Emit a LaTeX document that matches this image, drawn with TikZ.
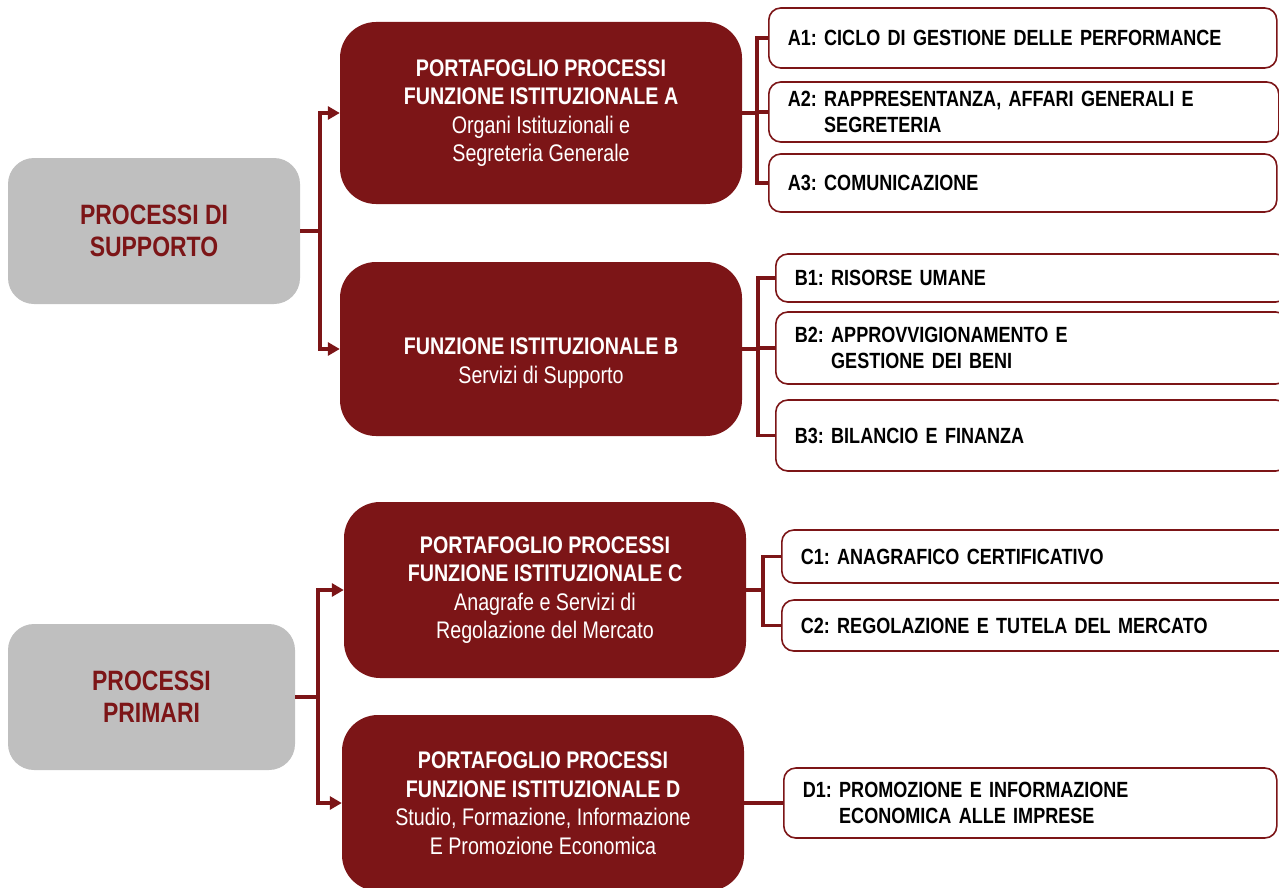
\documentclass[tikz,border=0pt]{standalone}
\usepackage{fontspec}
\setmainfont{Liberation Sans}[FakeStretch=0.82]
\usepackage{tikz}
\usetikzlibrary{positioning,arrows.meta}
\definecolor{bordo}{RGB}{124,21,23}
\definecolor{grigio}{RGB}{191,191,191}

\begin{document}
\begin{tikzpicture}[x=1pt,y=-1pt,
      macro/.style={rectangle,fill=grigio,rounded corners=26pt,minimum width=292pt,minimum height=146pt,
                    align=center,text=bordo,font=\fontsize{28}{32}\selectfont\bfseries},
      funz/.style={rectangle,fill=bordo,rounded corners=36pt,minimum width=402pt,
                   align=center,text=white,font=\fontsize{24}{28.5}\selectfont},
      proc/.style={rectangle,draw=bordo,line width=1.6pt,fill=white,rounded corners=12pt,anchor=west,
                   inner xsep=19pt,text width=#1,align=left,font=\fontsize{22}{26}\selectfont\bfseries},
      proc/.default=470pt,
      ramo/.style={draw=bordo,line width=3.5pt},
      freccia/.style={ramo,-{Triangle[length=12pt,width=13pt]}}]
    \useasboundingbox (0,0) rectangle (1279,888);
    \node[macro] (supp) at (154,231) {PROCESSI DI\\SUPPORTO};
    \node[macro,minimum width=287pt] (prim) at (151.5,697) {PROCESSI\\PRIMARI};
    \node[funz,minimum height=182pt] (fa) at (541,113) {\textbf{PORTAFOGLIO PROCESSI}\\\textbf{FUNZIONE ISTITUZIONALE A}\\Organi Istituzionali e\\Segreteria Generale};
    \node[funz,minimum height=174pt] (fb) at (541,349) {};
    \node[text=white,align=center,font=\fontsize{24}{28.5}\selectfont] at ([yshift=-14pt]fb.center) {\textbf{FUNZIONE ISTITUZIONALE B}\\Servizi di Supporto};
    \node[funz,minimum height=176pt] (fc) at (545,590) {\textbf{PORTAFOGLIO PROCESSI}\\\textbf{FUNZIONE ISTITUZIONALE C}\\Anagrafe e Servizi di\\Regolazione del Mercato};
    \node[funz,minimum height=176pt] (fd) at (543,803) {\textbf{PORTAFOGLIO PROCESSI}\\\textbf{FUNZIONE ISTITUZIONALE D}\\Studio, Formazione, Informazione\\E Promozione Economica};
    \node[proc,minimum height=60pt] (a1) at (768,38) {A1:~CICLO DI GESTIONE DELLE PERFORMANCE};
    \node[proc=472pt,minimum height=60pt] (a2) at (768,112) {A2:~RAPPRESENTANZA, AFFARI GENERALI E\\\phantom{A2:~}SEGRETERIA};
    \node[proc,minimum height=58pt] (a3) at (768,183) {A3:~COMUNICAZIONE};
    \node[proc=474pt,minimum height=48pt] (b1) at (775,278) {B1:~RISORSE UMANE};
    \node[proc=474pt,minimum height=72pt] (b2) at (775,348) {B2:~APPROVVIGIONAMENTO E\\\phantom{B2:~}GESTIONE DEI BENI};
    \node[proc=474pt,minimum height=71pt] (b3) at (775,435.5) {B3:~BILANCIO E FINANZA};
    \node[proc=474pt,minimum height=53pt] (c1) at (781,556.5) {C1:~ANAGRAFICO CERTIFICATIVO};
    \node[proc=474pt,minimum height=51pt] (c2) at (781,625.5) {C2:~REGOLAZIONE E TUTELA DEL MERCATO};
    \node[proc=455pt,minimum height=70pt] (d1) at (783,803) {D1:~PROMOZIONE E INFORMAZIONE\\\phantom{D1:~}ECONOMICA ALLE IMPRESE};
    \coordinate (ns) at (320,231);
    \coordinate (np) at (318,697);
    \coordinate (na) at (757,113);
    \coordinate (nb) at (758,349);
    \coordinate (nc) at (763,590);
    \draw[ramo] (supp) -- (ns);
    \draw[freccia] (ns) |- (fa);
    \draw[freccia] (ns) |- (fb);
    \draw[ramo] (prim) -- (np);
    \draw[freccia] (np) |- (fc);
    \draw[freccia] (np) |- (fd);
    \draw[ramo] (fa) -- (na);
    \draw[ramo] (na) |- (a1);
    \draw[ramo] (na) |- (a2);
    \draw[ramo] (na) |- (a3);
    \draw[ramo] (fb) -- (nb);
    \draw[ramo] (nb) |- (b1);
    \draw[ramo] (nb) |- (b2);
    \draw[ramo] (nb) |- (b3);
    \draw[ramo] (fc) -- (nc);
    \draw[ramo] (nc) |- (c1);
    \draw[ramo] (nc) |- (c2);
    \draw[ramo] (fd) -- (d1);
  \end{tikzpicture}
\end{document}
